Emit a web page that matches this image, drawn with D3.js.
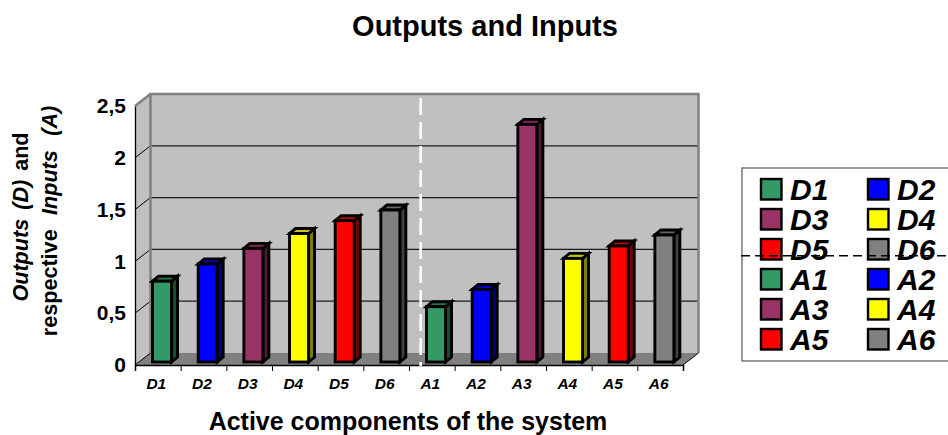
<!DOCTYPE html>
<html><head><meta charset="utf-8">
<script src="https://cdn.jsdelivr.net/npm/d3@7"></script>
<style>html,body{margin:0;padding:0;background:#fff}svg{display:block}text{font-family:"Liberation Sans",Arial,sans-serif;fill:#000}</style>
</head><body><svg id="c" width="948" height="435"></svg>
<script>
const categories = ["D1","D2","D3","D4","D5","D6","A1","A2","A3","A4","A5","A6"];
const values = [0.78,0.946,1.097,1.24,1.364,1.467,0.534,0.70,2.294,1.0,1.12,1.226];
const palette = ["#339966","#0000ff","#993366","#ffff00","#ff0000","#808080"];
const yTicks = [0,0.5,1,1.5,2,2.5];
const title = "Outputs and Inputs";
const xTitle = "Active components of the system";

const svg = d3.select("#c");
const dx = 15.5, dy = -12;
const x0 = 135, x1 = 683, yB = 365, yT = 106;
const y = d3.scaleLinear().domain([0,2.5]).range([yB,yT]);
const xi = d3.scaleLinear().domain([0,12]).range([x0,x1]);
const band = d3.scaleBand().domain(categories).range([x0,x1]);
const fmt = v => String(v).replace(".",",");
const pts = a => a.map(p=>p.join(",")).join(" ");
const color = d3.scaleOrdinal().domain(categories).range(palette);

// walls and floor
svg.append("polygon").attr("points",pts([[x0,yT],[x0+dx,yT+dy],[x0+dx,yB+dy],[x0,yB]])).attr("fill","#c0c0c0");
svg.append("polygon").attr("points",pts([[x0,yB],[x1,yB],[x1+dx,yB+dy],[x0+dx,yB+dy]])).attr("fill","#808080");
svg.append("rect").attr("x",x0+dx).attr("y",yT+dy).attr("width",x1-x0).attr("height",yB-yT).attr("fill","#c0c0c0");

// gridlines on back and side wall
svg.append("g").selectAll("line").data(yTicks.slice(1,5)).join("line")
  .attr("x1",x0+dx).attr("x2",x1+dx).attr("y1",d=>y(d)+dy).attr("y2",d=>y(d)+dy)
  .attr("stroke","#000").attr("stroke-width",1.3).attr("stroke-opacity",.85);
svg.append("g").selectAll("line").data(yTicks).join("line")
  .attr("x1",x0).attr("x2",x0+dx).attr("y1",d=>y(d)).attr("y2",d=>y(d)+dy)
  .attr("stroke",d=>d===2.5?"#808080":"#000").attr("stroke-width",d=>d===2.5?2.5:1);

// wall border
svg.append("path").attr("d",`M${x0+dx},${yB+dy}V${yT+dy}H${x1+dx}V${yB+dy}`)
  .attr("fill","none").attr("stroke","#808080").attr("stroke-width",2.5);
svg.append("line").attr("x1",x1).attr("y1",yB).attr("x2",x1+dx).attr("y2",yB+dy).attr("stroke","#000").attr("stroke-width",1);

// bars
const bw = 19, bdx = 6, bdy = -5, off = 8.2, lift = -3;
const bars = svg.append("g").selectAll("g").data(categories.map((c,i)=>({c,v:values[i]}))).join("g");
const left = d => band(d.c) + off + (band.bandwidth()-bw)/2 - 4;
const top_ = d => y(d.v) + lift;
const base = lift + yB;
const barStroke = {stroke:"#000","stroke-width":2.9,"stroke-linejoin":"miter"};
function st(s){ Object.entries(barStroke).forEach(([k,v])=>s.attr(k,v)); return s; }
st(bars.append("polygon").attr("points",d=>pts([[left(d)+bw,top_(d)],[left(d)+bw+bdx,top_(d)+bdy],[left(d)+bw+bdx,base+bdy],[left(d)+bw,base]]))
  .attr("fill",d=>d3.color(color(d.c)).darker(2)));
st(bars.append("polygon").attr("points",d=>pts([[left(d),top_(d)],[left(d)+bdx,top_(d)+bdy],[left(d)+bw+bdx,top_(d)+bdy],[left(d)+bw,top_(d)]]))
  .attr("fill",d=>d3.color(color(d.c)).darker(.7)));
st(bars.append("rect").attr("x",left).attr("y",top_).attr("width",bw).attr("height",d=>base-top_(d))
  .attr("fill",d=>color(d.c)));

// axes
const ax = svg.append("g").attr("transform",`translate(${x0},0)`)
  .call(d3.axisLeft(y).tickValues(yTicks).tickSize(0).tickPadding(9).tickFormat(fmt));
ax.select(".domain").attr("stroke","#000").attr("stroke-width",1.3);
ax.selectAll("text").attr("font-size",21).attr("font-weight","bold").attr("font-family",'"Liberation Sans"').attr("fill","#000");

const bx = svg.append("g").attr("transform",`translate(0,${yB})`)
  .call(d3.axisBottom(xi).ticks(12).tickSize(6).tickFormat(""));
bx.select(".domain").attr("stroke","#000").attr("stroke-width",1.5);
bx.selectAll("line").attr("stroke","#000").attr("stroke-width",1);

svg.append("g").selectAll("text").data(categories).join("text")
  .attr("x",c=>band(c)+band.bandwidth()/2-1.5).attr("y",388.5).attr("text-anchor","middle")
  .attr("font-size",15.5).attr("font-weight","bold").attr("font-style","italic").text(c=>c);

// separator
svg.append("line").attr("x1",420.7).attr("x2",420.7).attr("y1",98).attr("y2",366)
  .attr("stroke","#fff").attr("stroke-width",2.6).attr("stroke-dasharray","17,7");

// titles
svg.append("text").attr("x",485).attr("y",36).attr("text-anchor","middle")
  .attr("font-size",29).attr("font-weight","bold").text(title);
svg.append("text").attr("x",408).attr("y",430).attr("text-anchor","middle")
  .attr("font-size",25).attr("font-weight","bold").text(xTitle);

const yl = svg.append("g").attr("font-size",21.6).attr("font-weight","bold");
const t1 = yl.append("text").attr("transform","translate(28,217) rotate(-90)").attr("text-anchor","middle").attr("xml:space","preserve").attr("word-spacing",-1.5);
t1.append("tspan").attr("font-style","italic").text("Outputs  (D)");
t1.append("tspan").text("  and");
const t2 = yl.append("text").attr("transform","translate(57,221) rotate(-90)").attr("text-anchor","middle").attr("xml:space","preserve").attr("word-spacing",1.2);
t2.append("tspan").text("respective  ");
t2.append("tspan").attr("font-style","italic").text("Inputs  (A)");

// legend
svg.append("rect").attr("x",742).attr("y",168).attr("width",220).attr("height",193)
  .attr("fill","#fff").attr("stroke","#555").attr("stroke-width",1.2);
const rowY = d3.scaleLinear().domain([0,5]).range([189,339]);
const lg = svg.append("g").selectAll("g").data(categories).join("g")
  .attr("transform",(c,i)=>`translate(${i%2?867:760},${rowY(Math.floor(i/2))})`);
lg.append("rect").attr("x",1).attr("y",-10).attr("width",20.5).attr("height",20.5)
  .attr("fill",c=>color(c)).attr("stroke","#000").attr("stroke-width",2.4);
lg.append("text").attr("x",30).attr("y",11).attr("font-size",30).attr("font-weight","bold").attr("font-style","italic").text(c=>c);
svg.append("line").attr("x1",741).attr("x2",948).attr("y1",255.7).attr("y2",255.7)
  .attr("stroke","#000").attr("stroke-width",1.4).attr("stroke-dasharray","9,5");
</script></body></html>
